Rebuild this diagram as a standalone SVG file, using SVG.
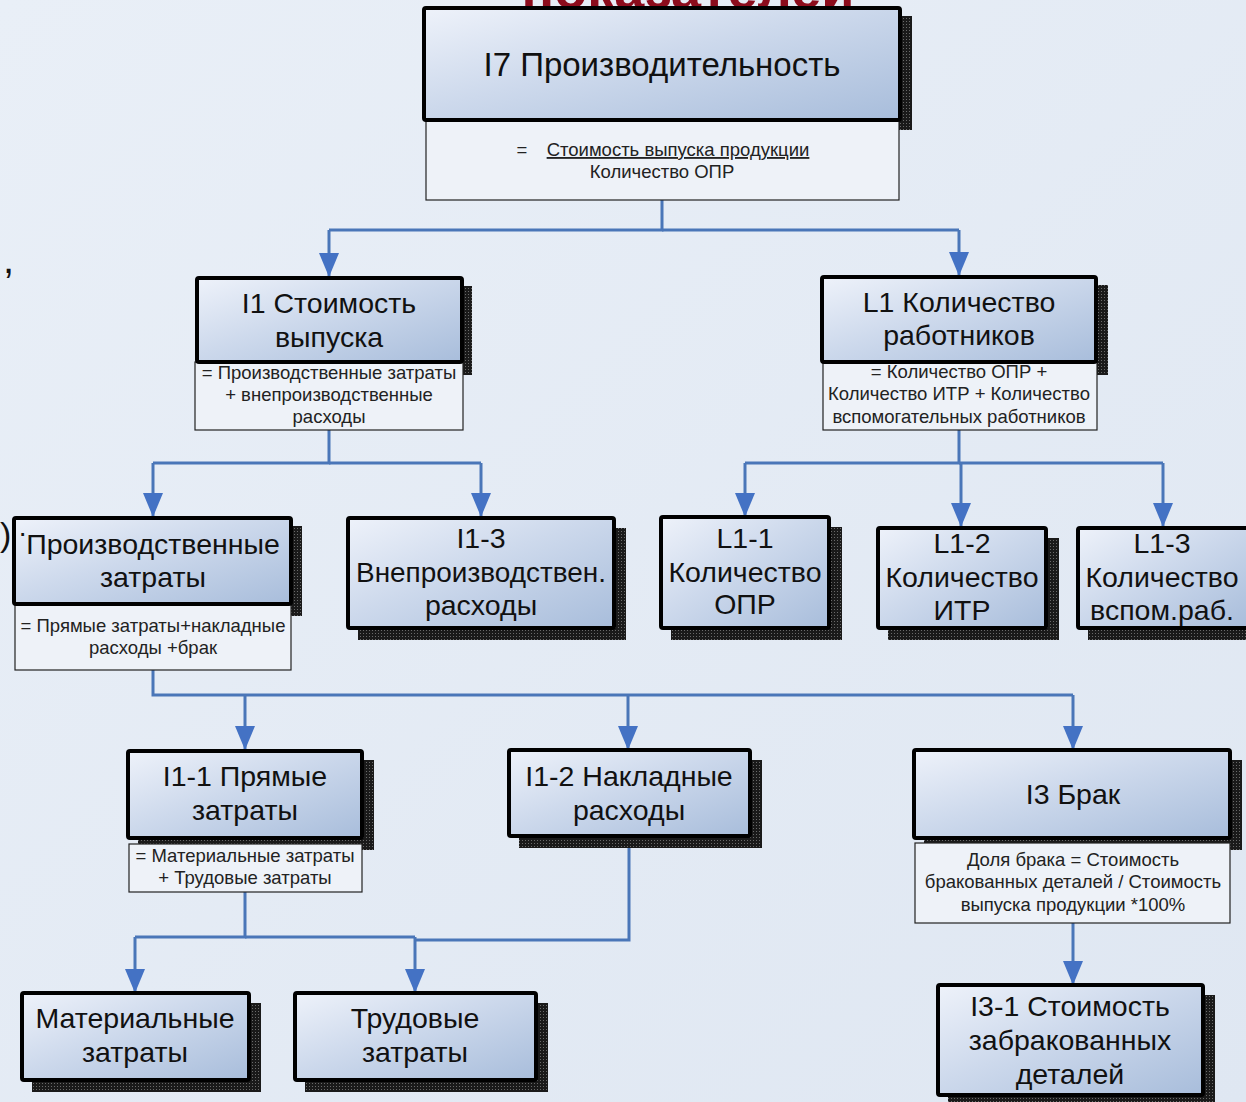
<svg xmlns="http://www.w3.org/2000/svg" width="1246" height="1102" viewBox="0 0 1246 1102">
<defs>
<linearGradient id="bg" x1="0" y1="0" x2="1" y2="1">
<stop offset="0" stop-color="#e9eff7"/><stop offset="1" stop-color="#dfe7f2"/>
</linearGradient>
<linearGradient id="nf" x1="0" y1="0" x2="1" y2="1">
<stop offset="0" stop-color="#eef2fa"/><stop offset="0.45" stop-color="#cdd9ec"/><stop offset="1" stop-color="#a8bddb"/>
</linearGradient>
<pattern id="sh" width="3" height="3" patternUnits="userSpaceOnUse">
<rect width="3" height="3" fill="#1a1a1a"/><rect width="1" height="1" fill="#6a6a6a"/>
</pattern>
<marker id="ar" viewBox="0 0 24 20" refX="24" refY="10" markerWidth="24" markerHeight="20" markerUnits="userSpaceOnUse" orient="auto">
<path d="M0,0 L24,10 L0,20 Z" fill="#4472c4"/>
</marker>
<style>
.s{fill:url(#sh);}
.n{fill:url(#nf);stroke:#000;stroke-width:4;}
.f{fill:#eef2f8;stroke:#222;stroke-width:1.2;}
.t{font-family:"Liberation Sans",Arial,sans-serif;font-size:28.5px;fill:#111;text-anchor:middle;}
.tb{font-family:"Liberation Sans",Arial,sans-serif;font-size:33px;fill:#111;text-anchor:middle;}
.ft{font-family:"Liberation Sans",Arial,sans-serif;font-size:18.5px;fill:#222;text-anchor:middle;}
.c{fill:none;stroke:#4a76b8;stroke-width:3;}
.ca{fill:none;stroke:#4a76b8;stroke-width:3;marker-end:url(#ar);}
.bgt{font-family:"Liberation Sans",Arial,sans-serif;fill:#111;}
</style>
</defs>
<rect width="1246" height="1102" fill="url(#bg)"/>
<text x="688" y="8" font-family="'Liberation Sans',Arial,sans-serif" font-weight="bold" font-size="54" fill="#8c0c1c" text-anchor="middle">показателей</text>
<text class="bgt" x="3" y="273" font-size="40">,</text>
<text class="bgt" x="0" y="546" font-size="34">)</text>

<g id="connectors">
<path class="c" d="M662,200 V230 H329"/>
<path class="ca" d="M329,230 V277"/>
<path class="c" d="M662,230 H959"/>
<path class="ca" d="M959,230 V276"/>
<path class="c" d="M329,430 V463 H153"/>
<path class="ca" d="M153,463 V517"/>
<path class="c" d="M329,463 H481"/>
<path class="ca" d="M481,463 V517"/>
<path class="c" d="M959,430 V463 H745"/>
<path class="ca" d="M745,463 V517"/>
<path class="c" d="M959,463 H1163"/>
<path class="ca" d="M961,463 V527"/>
<path class="ca" d="M1163,463 V527"/>
<path class="c" d="M153,670 V695 H1073"/>
<path class="ca" d="M245,695 V750"/>
<path class="ca" d="M628,695 V750"/>
<path class="ca" d="M1073,695 V750"/>
<path class="c" d="M245,892 V937 H135"/>
<path class="ca" d="M135,937 V993"/>
<path class="c" d="M245,937 H415"/>
<path class="ca" d="M415,937 V993"/>
<path class="c" d="M629,836 V940 H415"/>
<path class="ca" d="M1073,923 V985"/>
</g>

<g id="n-i7">
<rect class="s" x="432" y="16" width="480" height="114"/>
<rect class="f" x="426" y="120" width="473" height="80"/>
<rect class="n" x="424" y="8" width="476" height="112" rx="2"/>
<text class="tb" x="662" y="76">I7 Производительность</text>
<text class="ft" x="522" y="156">=</text>
<text class="ft" x="678" y="156" text-decoration="underline">Стоимость выпуска продукции</text>
<text class="ft" x="662" y="178">Количество ОПР</text>
</g>

<g id="n-i1">
<rect class="s" x="205" y="286" width="267" height="89"/>
<rect class="f" x="195" y="362" width="268" height="68"/>
<rect class="n" x="197" y="278" width="265" height="84" rx="2"/>
<text class="t" x="329" y="313">I1 Стоимость</text>
<text class="t" x="329" y="347">выпуска</text>
<text class="ft" x="329" y="379">= Производственные затраты</text>
<text class="ft" x="329" y="401">+ внепроизводственные</text>
<text class="ft" x="329" y="423">расходы</text>
</g>

<g id="n-l1">
<rect class="s" x="830" y="285" width="278" height="37"/>
<rect class="s" x="1097" y="285" width="11" height="90"/>
<rect class="f" x="823" y="362" width="274" height="68"/>
<rect class="n" x="822" y="277" width="274" height="85" rx="2"/>
<text class="t" x="959" y="312">L1 Количество</text>
<text class="t" x="959" y="345">работников</text>
<text class="ft" x="959" y="378">= Количество ОПР +</text>
<text class="ft" x="959" y="400">Количество ИТР + Количество</text>
<text class="ft" x="959" y="423">вспомогательных работников</text>
</g>

<g id="n-pz">
<rect class="s" x="22" y="526" width="280" height="90"/>
<rect class="f" x="15" y="604" width="276" height="66"/>
<rect class="n" x="14" y="518" width="277" height="86" rx="2"/>
<text class="t" x="153" y="554">Производственные</text>
<text class="t" x="153" y="587">затраты</text>
<text class="ft" x="153" y="632">= Прямые затраты+накладные</text>
<text class="ft" x="153" y="654">расходы +брак</text>
</g>
<text class="bgt" x="18" y="542" font-size="28">·</text>

<g id="n-i13">
<rect class="s" x="358" y="528" width="268" height="112"/>
<rect class="n" x="348" y="518" width="266" height="110" rx="2"/>
<text class="t" x="481" y="548">I1-3</text>
<text class="t" x="481" y="582" textLength="250" lengthAdjust="spacingAndGlyphs">Внепроизводствен.</text>
<text class="t" x="481" y="615">расходы</text>
</g>

<g id="n-l11">
<rect class="s" x="671" y="527" width="171" height="113"/>
<rect class="n" x="661" y="517" width="168" height="111" rx="2"/>
<text class="t" x="745" y="548">L1-1</text>
<text class="t" x="745" y="582">Количество</text>
<text class="t" x="745" y="614">ОПР</text>
</g>

<g id="n-l12">
<rect class="s" x="888" y="538" width="171" height="102"/>
<rect class="n" x="878" y="528" width="168" height="100" rx="2"/>
<text class="t" x="962" y="553">L1-2</text>
<text class="t" x="962" y="587">Количество</text>
<text class="t" x="962" y="620">ИТР</text>
</g>

<g id="n-l13">
<rect class="s" x="1088" y="538" width="171" height="102"/>
<rect class="n" x="1078" y="528" width="170" height="100" rx="2"/>
<text class="t" x="1162" y="553">L1-3</text>
<text class="t" x="1162" y="587">Количество</text>
<text class="t" x="1162" y="620">вспом.раб.</text>
</g>

<g id="n-i11">
<rect class="s" x="138" y="760" width="236" height="90"/>
<rect class="f" x="129" y="844" width="233" height="48"/>
<rect class="n" x="128" y="751" width="234" height="87" rx="2"/>
<text class="t" x="245" y="786">I1-1 Прямые</text>
<text class="t" x="245" y="820">затраты</text>
<text class="ft" x="245" y="862">= Материальные затраты</text>
<text class="ft" x="245" y="884">+ Трудовые затраты</text>
</g>

<g id="n-i12">
<rect class="s" x="519" y="760" width="243" height="88"/>
<rect class="n" x="509" y="750" width="241" height="86" rx="2"/>
<text class="t" x="629" y="786">I1-2 Накладные</text>
<text class="t" x="629" y="820">расходы</text>
</g>

<g id="n-i3">
<rect class="s" x="924" y="760" width="318" height="90"/>
<rect class="f" x="915" y="843" width="315" height="80"/>
<rect class="n" x="914" y="750" width="316" height="88" rx="2"/>
<text class="t" x="1073" y="804">I3 Брак</text>
<text class="ft" x="1073" y="866">Доля брака = Стоимость</text>
<text class="ft" x="1073" y="888">бракованных деталей / Стоимость</text>
<text class="ft" x="1073" y="911">выпуска продукции *100%</text>
</g>

<g id="n-mat">
<rect class="s" x="32" y="1003" width="229" height="89"/>
<rect class="n" x="22" y="993" width="227" height="87" rx="2"/>
<text class="t" x="135" y="1028">Материальные</text>
<text class="t" x="135" y="1062">затраты</text>
</g>

<g id="n-trud">
<rect class="s" x="305" y="1003" width="243" height="89"/>
<rect class="n" x="295" y="993" width="241" height="87" rx="2"/>
<text class="t" x="415" y="1028">Трудовые</text>
<text class="t" x="415" y="1062">затраты</text>
</g>

<g id="n-i31">
<rect class="s" x="948" y="995" width="267" height="107"/>
<rect class="n" x="938" y="985" width="265" height="110" rx="2"/>
<text class="t" x="1070" y="1016">I3-1 Стоимость</text>
<text class="t" x="1070" y="1050">забракованных</text>
<text class="t" x="1070" y="1084">деталей</text>
</g>
</svg>
